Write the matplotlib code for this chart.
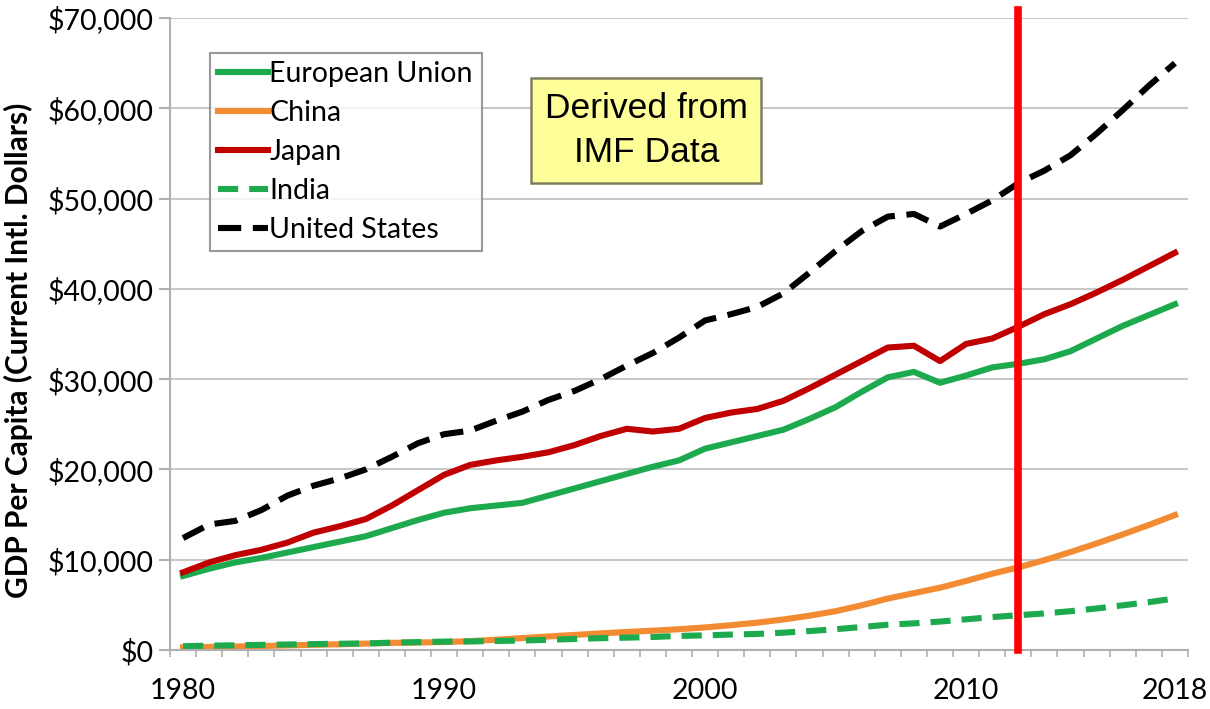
import numpy as np
import matplotlib
matplotlib.use("Agg")
import matplotlib.pyplot as plt

# data (GDP per capita, current intl. dollars)
years = list(range(1980, 2019))

eu = [8200, 9000, 9700, 10200, 10800, 11400, 12000, 12600, 13500, 14400,
      15200, 15700, 16000, 16300, 17100, 17900, 18700, 19500, 20300, 21000,
      22300, 23000, 23700, 24400, 25600, 26900, 28600, 30200, 30800, 29600,
      30400, 31300, 31700, 32200, 33100, 34500, 35900, 37100, 38300]

china = [300, 340, 390, 440, 510, 580, 630, 710, 790, 830,
         880, 980, 1140, 1320, 1500, 1670, 1840, 2000, 2140, 2300,
         2500, 2750, 3030, 3380, 3800, 4300, 4950, 5700, 6300, 6900,
         7650, 8450, 9150, 9950, 10850, 11800, 12800, 13850, 14950]

japan = [8600, 9700, 10500, 11100, 11900, 13000, 13700, 14500, 16000, 17700,
         19400, 20500, 21000, 21400, 21900, 22700, 23700, 24500, 24200, 24500,
         25700, 26300, 26700, 27600, 29000, 30500, 32000, 33500, 33700, 32000,
         33900, 34500, 35800, 37200, 38300, 39600, 41000, 42500, 44000]

india = [420, 480, 520, 570, 610, 650, 690, 730, 810, 870,
         930, 950, 1000, 1050, 1130, 1220, 1310, 1370, 1440, 1560,
         1620, 1710, 1780, 1920, 2100, 2300, 2550, 2800, 2950, 3150,
         3400, 3650, 3850, 4050, 4300, 4600, 4950, 5300, 5700]

usa = [12400, 13900, 14300, 15500, 17100, 18200, 19000, 20000, 21400, 22900,
       23900, 24300, 25400, 26400, 27700, 28700, 30000, 31500, 32900, 34600,
       36500, 37200, 38000, 39500, 41800, 44200, 46400, 48000, 48300, 46900,
       48300, 49800, 51700, 53100, 54800, 57200, 59800, 62500, 65000]

year_labels = [1980, 1990, 2000, 2010, 2018]
marker_year = 2012

plt.rcParams['font.family'] = ['Lato', 'DejaVu Sans']

fig = plt.figure(figsize=(12.1, 7.09), dpi=100)
ax = fig.add_axes([170/1210, 59/709, 1018/1210, 632/709])

green = "#1DAA4E"
lw = 4.4
ax.plot(years, eu, color=green, lw=lw, label="European Union")
ax.plot(years, china, color="#F38B32", lw=lw, label="China")
ax.plot(years, japan, color="#C00000", lw=lw, label="Japan")
ax.plot(years, india, color=green, lw=lw, dashes=(3.3, 1.8), label="India")
ax.plot(years, usa, color="black", lw=lw, dashes=(3.8, 1.9), label="United States")

# vertical marker at last actual data year
ax.axvline(marker_year, ymin=0, ymax=1.013, color="#FF0000", lw=5.5, clip_on=False, zorder=5)

ax.set_xlim(1979.5, 2018.5)
ax.set_ylim(0, 70000)

ax.set_yticks(range(0, 70001, 10000))
ax.set_yticklabels(["${:,}".format(v) for v in range(0, 70001, 10000)])
ax.set_xticks(year_labels)
ax.set_xticks(np.arange(1979.5, 2019, 1), minor=True)

ax.grid(axis="y", color="#C8C8C8", lw=1.5)
ax.set_axisbelow(True)
for s in ["top", "right"]:
    ax.spines[s].set_visible(False)
for s in ["left", "bottom"]:
    ax.spines[s].set_color("#B0B0B0")
    ax.spines[s].set_linewidth(1.5)

ax.tick_params(axis="y", length=8, width=1.5, color="#B0B0B0", labelsize=20.5, pad=4)
ax.tick_params(axis="x", which="major", length=0, labelsize=20.5, pad=20)
ax.tick_params(axis="x", which="minor", length=5, width=1.2, color="#B0B0B0")

fig.text(18/1210, 1 - 350/709, "GDP Per Capita (Current Intl. Dollars)", rotation=90,
         ha="center", va="center", fontsize=21.5, fontweight="bold")

leg = ax.legend(loc="upper left", bbox_to_anchor=(0.039, 0.945), borderaxespad=0,
                fontsize=20.5, frameon=True, fancybox=False, edgecolor="#808080",
                handlelength=1.75, handletextpad=0.05, labelspacing=0.45, borderpad=0.3)
leg.get_frame().set_linewidth(1.5)

ax.text(0.468, 0.822, "Derived from\nIMF Data", transform=ax.transAxes,
        ha="center", va="center", fontsize=25.5, linespacing=1.45,
        family=["Liberation Sans Narrow", "Liberation Sans", "DejaVu Sans"],
        bbox=dict(boxstyle="square,pad=0.38", facecolor="#FFFF99", edgecolor="#7F7F60", lw=1.8))

fig.savefig("out.png", dpi=100)
